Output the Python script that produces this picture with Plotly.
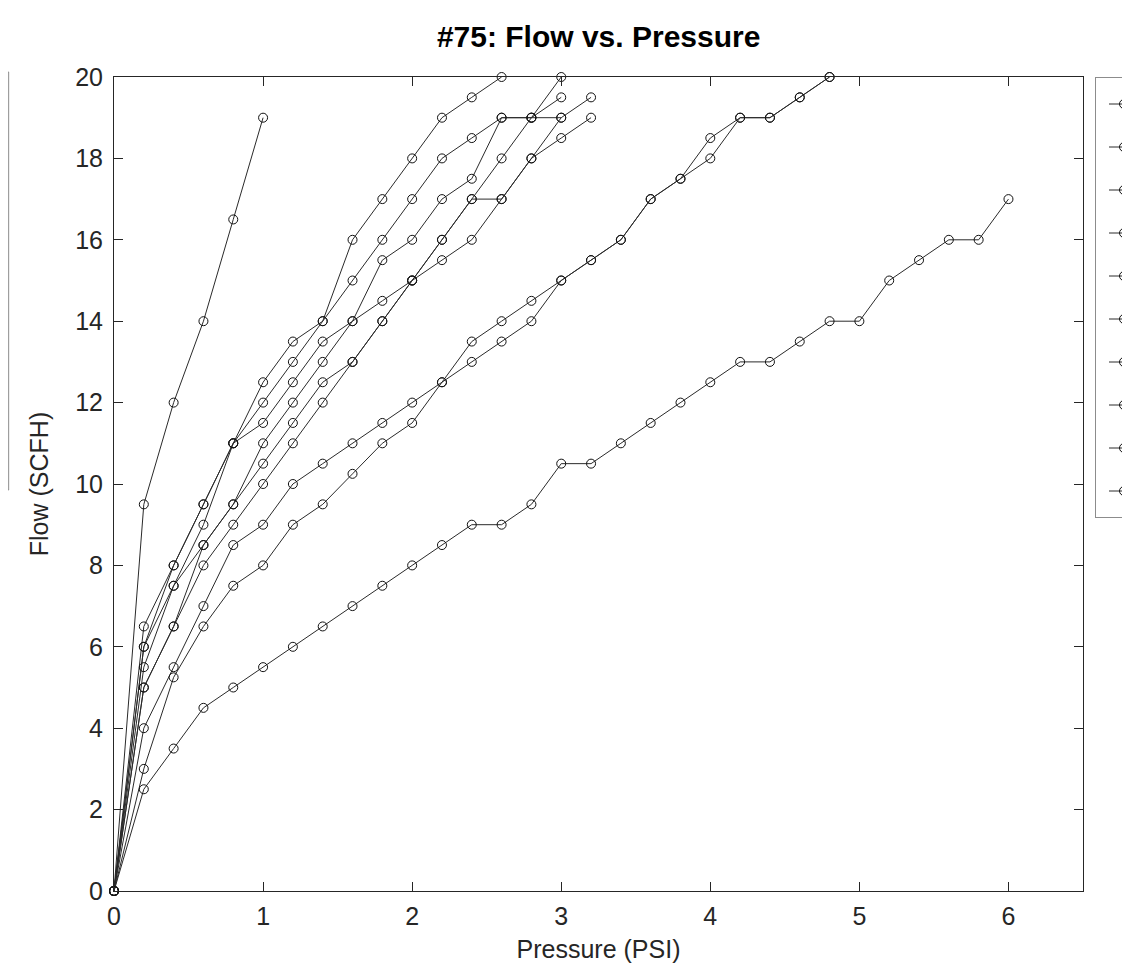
import plotly.graph_objects as go

# Pressure grid (PSI) shared by all runs
PRESSURE = [0, 0.2, 0.4, 0.6, 0.8, 1.0, 1.2, 1.4, 1.6, 1.8, 2.0, 2.2, 2.4, 2.6, 2.8,
            3.0, 3.2, 3.4, 3.6, 3.8, 4.0, 4.2, 4.4, 4.6, 4.8, 5.0, 5.2, 5.4, 5.6, 5.8, 6.0]

# Flow (SCFH) per run, read at each pressure step
RUN_1 = [0, 9.5, 12, 14, 16.5, 19]
RUN_2 = [0, 6.5, 8, 9.5, 11, 12.5, 13.5, 14, 16, 17, 18, 19, 19.5, 20]
RUN_3 = [0, 6, 7.5, 9, 11, 12, 13, 14, 15, 16, 17, 18, 18.5, 19, 19, 19.5]
RUN_4 = [0, 6, 8, 9.5, 11, 11.5, 12.5, 13.5, 14, 15.5, 16, 17, 17.5, 19, 19, 19, 19.5]
RUN_5 = [0, 5, 6.5, 8.5, 9.5, 10.5, 11.5, 12.5, 13, 14, 15, 16, 17, 18, 19, 20]
RUN_6 = [0, 5, 6.5, 8, 9, 10, 11, 12, 13, 14, 15, 16, 17, 17, 18, 18.5, 19]
RUN_7 = [0, 5.5, 7.5, 8.5, 9.5, 11, 12, 13, 14, 14.5, 15, 15.5, 16, 17, 18, 19]
RUN_8 = [0, 4, 5.5, 7, 8.5, 9, 10, 10.5, 11, 11.5, 12, 12.5, 13, 13.5, 14, 15, 15.5,
         16, 17, 17.5, 18.5, 19, 19, 19.5, 20]
RUN_9 = [0, 3, 5.25, 6.5, 7.5, 8, 9, 9.5, 10.25, 11, 11.5, 12.5, 13.5, 14, 14.5, 15, 15.5,
         16, 17, 17.5, 18, 19, 19, 19.5, 20]
RUN_10 = [0, 2.5, 3.5, 4.5, 5, 5.5, 6, 6.5, 7, 7.5, 8, 8.5, 9, 9, 9.5, 10.5, 10.5, 11,
          11.5, 12, 12.5, 13, 13, 13.5, 14, 14, 15, 15.5, 16, 16, 17]

RUNS = [RUN_1, RUN_2, RUN_3, RUN_4, RUN_5, RUN_6, RUN_7, RUN_8, RUN_9, RUN_10]
# legend labels are cut off by the right edge in the reference, so they stay blank
NAMES = [" "] * len(RUNS)

X_TICKS = [0, 1, 2, 3, 4, 5, 6]
Y_TICKS = [0, 2, 4, 6, 8, 10, 12, 14, 16, 18, 20]

# the page body adds an 8px offset; figure sized so it ends at the window edge
W, H = 1122, 963
L, R, T, B = 106.3, 47, 69, 80
PW, PH = W - L - R, H - T - B

AX = "#262626"
LINE = "#2a2a2a"

fig = go.Figure()
for i, (name, flow) in enumerate(zip(NAMES, RUNS)):
    fig.add_trace(go.Scatter(
        x=PRESSURE[:len(flow)], y=flow, name=name, mode="lines+markers",
        line=dict(color=LINE, width=1),
        marker=dict(symbol="circle-open", size=9, color="#111111",
                    line=dict(width=1, color="#111111")),
        cliponaxis=False, legendgroup=f"g{i}",
        hovertemplate=f"Run {i + 1}<br>%{{x}} PSI, %{{y}} SCFH<extra></extra>",
    ))

font = "Liberation Sans, Arial, Helvetica, sans-serif"

fig.update_layout(
    width=W, height=H,
    margin=dict(l=L, r=R, t=T, b=B, autoexpand=False),
    paper_bgcolor="white", plot_bgcolor="white",
    font=dict(family=font, color=AX, size=25),
    title=dict(text="<b>#75: Flow vs. Pressure</b>", x=(L + PW / 2) / W, xref="container",
               xanchor="center", y=1 - 28 / H, yref="container", yanchor="middle",
               font=dict(size=30, color="black", family=font)),
    xaxis=dict(range=[0, 6.5], tickvals=X_TICKS, ticks="inside", ticklen=9,
               tickcolor=AX, showline=True, linecolor=AX, linewidth=1, mirror="ticks",
               showgrid=False, zeroline=False, ticklabelstandoff=3,
               tickfont=dict(size=25, color=AX),
               title=dict(text="Pressure (PSI)", standoff=11, font=dict(size=25, color=AX))),
    yaxis=dict(range=[0, 20], tickvals=Y_TICKS, ticks="inside", ticklen=9,
               tickcolor=AX, showline=True, linecolor=AX, linewidth=1, mirror="ticks",
               showgrid=False, zeroline=False, ticklabelstandoff=5,
               tickfont=dict(size=25, color=AX),
               title=dict(text="Flow (SCFH)", standoff=19, font=dict(size=25, color=AX))),
    showlegend=True,
    legend=dict(x=(1087 - L) / PW, xanchor="left", y=1, yanchor="top",
                bordercolor="#8c8c8c", borderwidth=1, bgcolor="white",
                font=dict(size=30, color=AX), tracegroupgap=1,
                itemwidth=30, indentation=8),
    shapes=[dict(type="rect", xref="paper", yref="paper",
                 x0=(-30 - L) / PW, x1=(1.0 - L) / PW,
                 y0=(H - B - 482) / PH, y1=(H - B - 64) / PH,
                 line=dict(color="#8c8c8c", width=1), fillcolor="rgba(0,0,0,0)")],
)

fig.write_html("out.html")
